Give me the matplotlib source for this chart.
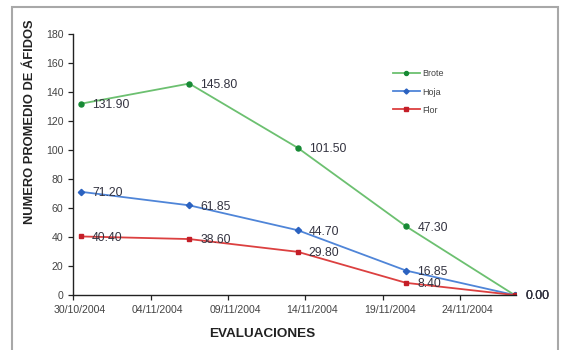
import matplotlib
matplotlib.use("Agg")
import matplotlib.pyplot as plt
import matplotlib.dates as mdates
import matplotlib.transforms as mtransforms
from matplotlib.patches import Rectangle
import numpy as np
import pandas as pd

plt.rcParams["font.family"] = ["Liberation Sans", "DejaVu Sans"]

# Evaluation dates and mean aphid counts per plant part
fechas = ["2004-10-30", "2004-11-06", "2004-11-13", "2004-11-20", "2004-11-27"]
brote = [131.90, 145.80, 101.50, 47.30, 0.00]
hoja = [71.20, 61.85, 44.70, 16.85, 0.00]
flor = [40.40, 38.60, 29.80, 8.40, 0.00]
series_names = ["Brote", "Hoja", "Flor"]

tick_start = "2004-10-30"
tick_end = "2004-11-24"

# points sit in the middle of each day on the date axis
x = pd.to_datetime(fechas) + pd.Timedelta(hours=12)

fig = plt.figure(figsize=(5.62, 3.5), dpi=100)
ax = fig.add_axes([0.130, 0.157, 0.788, 0.746])

styles = [
    dict(color="#6cc070", mfc="#178a35", mec="#178a35", marker="o", ms=3.6),
    dict(color="#4f85d8", mfc="#2b62c0", mec="#2b62c0", marker="D", ms=3.2),
    dict(color="#dc4040", mfc="#c41e28", mec="#c41e28", marker="s", ms=3.2),
]

for name, vals, st in zip(series_names, [brote, hoja, flor], styles):
    ax.plot(x, vals, lw=1.3, label=name, **st)
    for xi, v in zip(x, vals):
        ax.annotate(f"{v:.2f}", (xi, v), xytext=(8, -1), textcoords="offset points",
                    ha="left", va="center", fontsize=8.7, color="#333340")

ax.set_ylim(0, 180)
ax.set_yticks(np.arange(0, 181, 20))
ticks = pd.date_range(tick_start, tick_end, freq="5D")
ax.set_xticks(ticks)
ax.xaxis.set_major_formatter(mdates.DateFormatter("%d/%m/%Y"))
ax.set_xlim(pd.Timestamp(tick_start), x[-1] + pd.Timedelta(hours=2))

for s in ["top", "right"]:
    ax.spines[s].set_visible(False)
for s in ["left", "bottom"]:
    ax.spines[s].set_color("#222222")
    ax.spines[s].set_linewidth(1.0)

ax.tick_params(axis="both", labelsize=7.6, colors="#222222", labelcolor="#444444",
               length=3.5, width=0.9, direction="out")
ax.tick_params(axis="x", pad=4)

# date labels are centred on the middle of their day
shift = mtransforms.ScaledTranslation(7 / 100, 0, fig.dpi_scale_trans)
for lbl in ax.get_xticklabels():
    lbl.set_transform(lbl.get_transform() + shift)

fig.text(0.054, 0.652, "NUMERO PROMEDIO DE ÁFIDOS", rotation=90, ha="center", va="center",
         fontsize=9.3, fontweight="bold", color="#222222")
fig.text(0.466, 0.045, "EVALUACIONES", ha="center", va="center",
         fontsize=9.7, fontweight="bold", color="#222222")

leg = ax.legend(loc="upper left", bbox_to_anchor=(0.705, 0.895), frameon=False,
                fontsize=6.5, handlelength=2.9, labelspacing=1.0, handletextpad=0.3,
                markerscale=0.8)
for t in leg.get_texts():
    t.set_color("#444444")

frame = Rectangle((12 / 562, -0.1), (558 - 12) / 562, 0.1 + (350 - 7) / 350,
                  transform=fig.transFigure, fill=False, edgecolor="#a8a8a8", lw=1.5,
                  clip_on=False)
fig.add_artist(frame)

fig.savefig("out.png", dpi=100)
